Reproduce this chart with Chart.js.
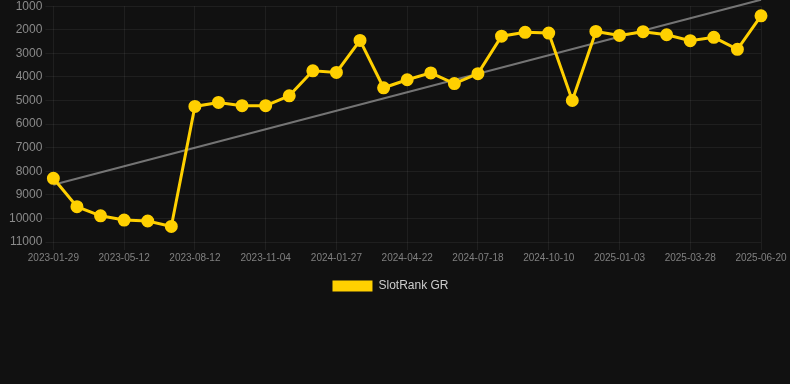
<!DOCTYPE html>
<html>
<head>
<meta charset="utf-8">
<script src="https://cdn.jsdelivr.net/npm/chart.js@4/dist/chart.umd.min.js"></script>
<style>
  html, body { margin: 0; padding: 0; background: #111111; overflow: hidden; }
  #wrap { width: 790px; height: 306px; position: relative; margin-top: -4px; }
</style>
</head>
<body>
<div id="wrap"><canvas id="c"></canvas></div>
<script>
const categories = [
  '2023-01-29','2023-03-05','2023-04-08','2023-05-12','2023-06-12','2023-07-13',
  '2023-08-12','2023-09-09','2023-10-07','2023-11-04','2023-12-02','2023-12-30',
  '2024-01-27','2024-02-24','2024-03-24','2024-04-22','2024-05-21','2024-06-19',
  '2024-07-18','2024-08-15','2024-09-12','2024-10-10','2024-11-07','2024-12-06',
  '2025-01-03','2025-01-31','2025-02-28','2025-03-28','2025-04-25','2025-05-23',
  '2025-06-20'
];
const rankValues = [
  8300, 9500, 9890, 10070, 10110, 10340,
  5250, 5080, 5220, 5220, 4800, 3740,
  3810, 2450, 4460, 4120, 3830, 4280,
  3860, 2270, 2110, 2140, 5000, 2070,
  2240, 2080, 2210, 2460, 2320, 2830,
  1410
];
const trendStart = 8570;
const trendEnd = 730;
const yTicks = [1000, 2000, 3000, 4000, 5000, 6000, 7000, 8000, 9000, 10000, 11000];
const seriesName = 'SlotRank GR';

const trendData = [
  { x: categories[0], y: trendStart },
  { x: categories[categories.length - 1], y: trendEnd }
];

Chart.defaults.font.family = '"Liberation Sans", Arial, sans-serif';

new Chart(document.getElementById('c'), {
  type: 'line',
  data: {
    labels: categories,
    datasets: [
      {
        label: seriesName,
        data: rankValues,
        borderColor: '#FFD000',
        backgroundColor: '#FFD000',
        borderWidth: 3,
        pointRadius: 5,
        pointHoverRadius: 5,
        pointBackgroundColor: '#FFD000',
        pointBorderColor: '#FFD000',
        tension: 0,
        order: 1
      },
      {
        label: 'trend',
        data: trendData,
        borderColor: 'rgba(150,150,150,0.75)',
        borderWidth: 2,
        pointRadius: 0,
        fill: false,
        clip: false,
        order: 2
      }
    ]
  },
  options: {
    responsive: true,
    maintainAspectRatio: false,
    animation: false,
    layout: { padding: { left: 6, right: 15, top: 0, bottom: 0 } },
    plugins: {
      legend: {
        position: 'bottom',
        labels: {
          color: '#cccccc',
          font: { size: 12 },
          boxWidth: 40,
          boxHeight: 11,
          padding: 14,
          generateLabels: (chart) => {
            const items = Chart.defaults.plugins.legend.labels.generateLabels(chart);
            return items
              .filter(it => it.text === seriesName)
              .map(it => Object.assign(it, { lineWidth: 0, fillStyle: '#FFD000', strokeStyle: 'rgba(0,0,0,0)' }));
          }
        }
      },
      tooltip: { enabled: false }
    },
    scales: {
      x: {
        afterFit: (scale) => { scale.paddingRight = 29; },
        grid: {
          color: (ctx) => (ctx.index % 3 === 0 ? 'rgba(255,255,255,0.06)' : 'rgba(0,0,0,0)'),
          drawTicks: true
        },
        border: { display: false },
        ticks: {
          autoSkip: false,
          maxRotation: 0,
          minRotation: 0,
          padding: 2,
          color: '#808080',
          font: { size: 10 },
          callback: function (value, index) {
            return index % 3 === 0 ? this.getLabelForValue(value) : '';
          }
        }
      },
      y: {
        reverse: true,
        min: 1000,
        max: 11000,
        afterBuildTicks: (axis) => { axis.ticks = yTicks.map(v => ({ value: v })); },
        grid: { color: 'rgba(255,255,255,0.06)' },
        border: { display: false },
        ticks: {
          color: '#8a8a8a',
          font: { size: 12 },
          callback: (value) => String(value)
        }
      }
    }
  }
});
</script>
</body>
</html>
